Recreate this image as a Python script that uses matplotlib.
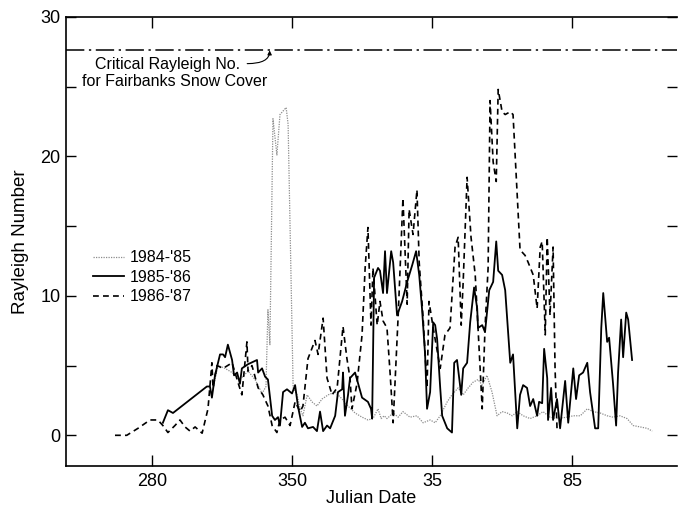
import matplotlib
matplotlib.use("Agg")
import matplotlib.pyplot as plt
from matplotlib.ticker import FixedLocator

plt.rcParams['font.family'] = ['Liberation Sans', 'DejaVu Sans']

# x axis: days counted on through the winter, one tick every 50 days
tick_pos = [300, 350, 400, 450]
tick_labels = ['280', '350', '35', '85']

critical_rayleigh = 27.6

# 1984-'85 (dotted)
days_8485 = [321.4, 323.6, 326.1, 328.6, 331.4, 334.3, 336.8, 339.3, 340.7,
             341.4, 342.1, 343.2, 344.6, 345.7, 347.9, 348.6, 350.4, 351.8, 352.9,
             353.9, 355.4, 357.1, 358.9, 360.7, 362.9, 365.4, 367.9, 370.0, 372.5,
             375.0, 377.1, 378.9, 380.7, 381.8, 382.9, 383.9, 386.1, 387.9, 389.6,
             392.1, 394.6, 396.8, 399.3, 401.1, 402.9, 405.4, 407.1, 409.3, 411.1,
             412.9, 414.6, 416.4, 417.9, 419.6, 421.4, 423.2, 425.0, 426.8, 428.6,
             430.4, 432.5, 435.0, 437.5, 439.6, 442.1, 444.6, 448.2, 450.4, 452.9,
             455.4, 457.5, 460.0, 462.5, 464.6, 467.1, 469.6, 471.8, 474.3, 476.8,
             478.6]
ra_8485 = [3.0, 5.0, 4.8, 4.5, 4.0, 4.6, 4.0, 3.0, 3.5,
           9.0, 6.5, 22.7, 20.1, 23.0, 23.5, 22.3, 3.4, 2.9, 1.9,
           1.4, 2.9, 2.4, 2.1, 2.6, 2.9, 3.1, 2.6, 2.1, 1.6,
           1.3, 1.1, 1.2, 1.9, 1.2, 1.4, 1.2, 1.6, 1.3, 1.7,
           1.3, 1.4, 0.9, 1.1, 0.9, 1.4, 2.4, 2.9, 3.4, 2.9,
           3.4, 3.8, 4.0, 3.6, 4.3, 3.1, 1.4, 1.7, 1.6, 1.4,
           1.7, 1.4, 1.2, 1.4, 1.7, 1.3, 1.2, 1.3, 1.4, 1.4,
           1.9, 1.7, 1.6, 1.4, 1.3, 1.4, 1.2, 0.7, 0.6, 0.5,
           0.3]

# 1985-'86 (solid)
days_8586 = [303.9, 305.7, 307.5, 319.6, 320.7, 321.4, 322.5, 324.3, 325.4, 326.1,
             327.1, 328.6, 329.3, 330.4, 331.4, 332.1, 334.3, 337.5, 337.9, 339.3,
             340.4, 341.4, 342.9, 343.9, 345.0, 345.7, 346.8, 348.2, 350.0, 351.1,
             352.1, 353.6, 354.6, 355.7, 357.5, 358.9, 360.0, 361.1, 362.5, 363.6,
             365.4, 366.4, 367.9, 368.2, 368.9, 370.0, 370.7, 372.5, 373.6, 375.0,
             377.1, 378.2, 378.6, 379.3, 380.7, 381.4, 382.5, 383.2, 383.9, 385.4,
             386.1, 387.5, 389.3, 391.1, 392.9, 394.3, 395.4, 396.4, 397.5, 398.2,
             399.3, 400.4, 401.1, 401.8, 402.9, 403.6, 405.4, 407.1, 407.9, 408.9,
             410.4, 411.1, 412.5, 413.6, 415.0, 416.1, 416.4, 417.9, 418.9, 420.4,
             421.8, 422.9, 423.6, 425.0, 426.1, 427.9, 428.9, 430.4, 431.4, 432.5,
             433.9, 435.0, 436.1, 437.5, 438.2, 439.3, 440.0, 441.1, 441.4, 442.5,
             443.2, 444.6, 445.7, 447.5, 448.6, 450.4, 451.4, 452.5, 453.9, 455.4,
             456.4, 458.2, 459.3, 460.4, 461.1, 462.5, 463.2, 464.6, 465.7, 466.4,
             467.5, 468.2, 469.3, 470.0, 471.4]
ra_8586 = [0.9, 1.8, 1.6, 3.5, 3.5, 2.7, 4.3, 5.8, 5.8, 5.6,
           6.5, 5.4, 4.3, 4.5, 3.7, 4.8, 5.1, 5.4, 4.5, 4.8,
           4.2, 4.0, 1.4, 1.1, 1.3, 0.7, 3.1, 3.3, 3.0, 3.6,
           2.1, 0.6, 0.9, 0.5, 0.6, 0.3, 1.7, 0.3, 0.7, 0.5,
           1.4, 3.1, 3.3, 4.5, 1.4, 2.9, 4.1, 4.5, 3.7, 2.7,
           2.4, 1.9, 1.2, 11.3, 12.0, 11.8, 10.2, 13.2, 10.2, 13.2,
           12.4, 8.6, 9.6, 11.0, 12.2, 13.2, 11.5, 9.1, 5.8, 1.9,
           3.1, 8.1, 7.9, 6.9, 3.4, 1.4, 0.5, 0.2, 5.2, 5.4,
           2.9, 4.8, 5.2, 8.1, 10.6, 9.1, 7.7, 7.9, 7.4, 10.4,
           11.0, 13.9, 11.8, 11.5, 10.4, 5.2, 5.8, 0.5, 2.9, 3.6,
           3.4, 2.1, 2.6, 1.4, 2.4, 2.3, 6.2, 4.1, 1.1, 3.4,
           1.1, 2.6, 0.5, 3.9, 0.9, 4.8, 2.6, 4.3, 4.5, 5.2,
           3.1, 0.5, 0.5, 7.7, 10.2, 6.7, 7.0, 3.7, 0.7, 4.5,
           8.3, 5.6, 8.8, 8.3, 5.4]

# 1986-'87 (dashed)
days_8687 = [286.8, 291.0, 295.0, 299.3, 302.1, 303.9, 305.7, 308.2, 310.0, 311.8,
             313.6, 315.4, 317.9, 320.0, 321.4, 321.8, 323.2, 325.4, 328.6, 330.7,
             332.1, 333.9, 334.3, 335.7, 337.9, 339.6, 341.4, 342.9, 344.6, 345.7,
             347.5, 349.3, 351.1, 352.9, 353.9, 355.7, 358.2, 359.3, 361.1, 362.5,
             364.3, 366.1, 368.2, 369.6, 370.7, 371.4, 373.2, 375.0, 376.1, 377.1,
             378.2, 378.9, 380.4, 381.4, 382.5, 383.9, 385.0, 386.1, 387.9, 389.6,
             391.1, 391.8, 393.2, 394.6, 395.4, 396.8, 398.2, 398.9, 400.4, 402.9,
             404.6, 406.4, 408.2, 409.3, 410.4, 411.1, 412.5, 413.9, 415.4, 416.4,
             417.9, 418.9, 420.0, 420.7, 421.8, 422.9, 423.6, 425.0, 426.1, 427.9,
             428.9, 431.4, 433.2, 434.3, 436.1, 437.5, 438.6, 439.3, 440.4, 441.1,
             442.1, 443.2, 443.9, 444.6]
ra_8687 = [0.0, 0.0, 0.5, 1.1, 1.1, 0.7, 0.2, 0.7, 1.1, 0.6,
           0.3, 0.6, 0.15, 1.9, 5.2, 3.4, 5.0, 4.8, 5.2, 3.8,
           2.9, 6.7, 4.6, 5.0, 3.4, 2.9, 2.1, 0.7, 0.2, 1.1,
           1.3, 0.7, 2.4, 1.7, 2.1, 5.5, 6.8, 5.8, 8.4, 4.1,
           2.9, 3.4, 7.8, 5.5, 4.1, 1.9, 3.7, 7.2, 12.0, 14.9,
           7.9, 12.0, 7.9, 9.6, 8.2, 7.7, 4.5, 0.9, 8.6, 17.0,
           9.4, 16.2, 14.4, 17.6, 12.4, 8.4, 3.4, 9.6, 7.7, 4.8,
           7.2, 7.7, 13.5, 14.2, 7.9, 11.0, 18.5, 14.2, 11.5, 7.7,
           1.9, 7.7, 12.0, 24.0, 19.6, 18.2, 24.8, 23.2, 23.0, 23.2,
           23.0, 13.3, 12.9, 12.4, 11.5, 9.1, 13.5, 13.9, 7.2, 14.2,
           8.6, 13.5, 4.8, 0.5]

fig = plt.figure(figsize=(6.78, 5.08), dpi=100)
ax = fig.add_axes([0.0973, 0.0827, 0.9015, 0.884])

ax.plot(days_8485, ra_8485, color='#8c8c8c', lw=0.9, ls=(0, (1, 1)), label="1984-'85")
ax.plot(days_8586, ra_8586, color='black', lw=1.3, ls='-', label="1985-'86")
ax.plot(days_8687, ra_8687, color='black', lw=1.2, ls=(0, (3.5, 2.5)), label="1986-'87")

# critical value line and its note
ax.axhline(critical_rayleigh, color='black', lw=1.1, ls=(0, (12, 3, 1.5, 3)))
ax.text(279.6, 26.6, "Critical Rayleigh No.", fontsize=11.5, ha='left', va='center')
ax.text(308.2, 25.35, "for Fairbanks Snow Cover", fontsize=11.5, ha='center', va='center')
ax.annotate('', xy=(342.0, critical_rayleigh), xytext=(334.0, 26.65),
            arrowprops=dict(arrowstyle='-|>', color='black', lw=0.8,
                            mutation_scale=6, shrinkA=0, shrinkB=0,
                            connectionstyle='angle3,angleA=0,angleB=90'))

ax.set_xlim(269.3, 487.5)
ax.set_ylim(-2.2, 30)
ax.xaxis.set_major_locator(FixedLocator(tick_pos))
ax.set_xticklabels(tick_labels)
ax.yaxis.set_major_locator(FixedLocator([0, 10, 20, 30]))
ax.yaxis.set_minor_locator(FixedLocator([5, 15, 25]))

ax.tick_params(axis='both', which='both', direction='in', top=True, right=True,
               labelsize=13, width=1)
ax.tick_params(axis='x', which='major', length=8, pad=5)
ax.tick_params(axis='y', which='major', length=7, pad=4)
ax.tick_params(axis='y', which='minor', length=7)
ax.spines['right'].set_visible(False)
for s in ['left', 'bottom', 'top']:
    ax.spines[s].set_linewidth(1.2)

ax.set_xlabel("Julian Date", fontsize=13, labelpad=0)
ax.set_ylabel("Rayleigh Number", fontsize=13.5, labelpad=8)

ax.legend(loc='upper left', bbox_to_anchor=(0.045, 0.48), frameon=False,
          fontsize=11.5, handlelength=1.9, handletextpad=0.35, labelspacing=0.28,
          borderpad=0, borderaxespad=0)

fig.savefig("out.png", dpi=100)
